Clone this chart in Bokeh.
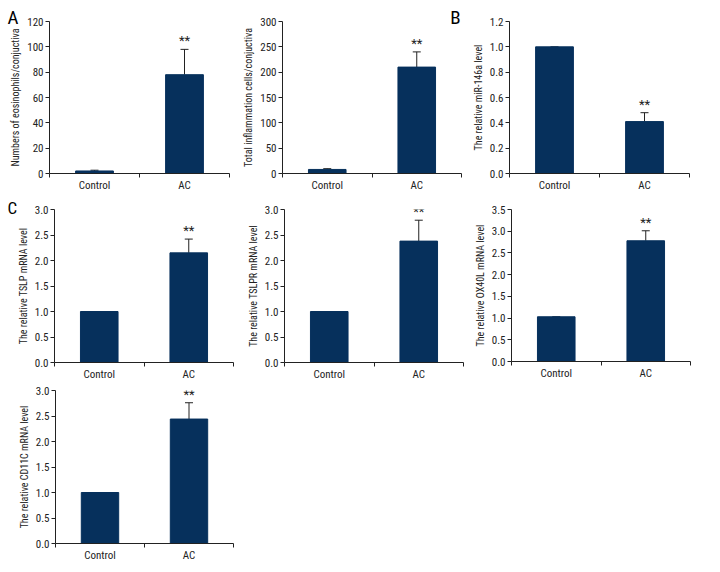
from bokeh.plotting import figure
from bokeh.models import (ColumnDataSource, FixedTicker, Whisker, TeeHead,
                          Range1d, NumeralTickFormatter)
from bokeh.layouts import column, row
from bokeh.core.properties import value
from bokeh.embed import file_html
from bokeh.resources import INLINE

categories = ["Control", "AC"]
significance = ["", "**"]

eos_mean = [2.0, 78.0]
eos_err = [0.6, 20.0]
total_mean = [8.0, 210.0]
total_err = [1.5, 30.0]
mir_mean = [1.0, 0.41]
mir_err = [0.0, 0.07]
tslp_mean = [1.0, 2.15]
tslp_err = [0.0, 0.27]
tslpr_mean = [1.0, 2.38]
tslpr_err = [0.0, 0.41]
ox40l_mean = [1.03, 2.78]
ox40l_err = [0.0, 0.23]
cd11c_mean = [1.0, 2.44]
cd11c_err = [0.0, 0.32]

FONT = "Roboto Condensed"
BAR = "#06305c"
INK = "#222222"


def panel(mean, err, ylabel, ymax, ystep, fmt, fw, fh, bl, bt, bb, br,
          label="", align="left", offset=0, standoff=0, lsize="19px"):
    n = len(categories)
    xs = [i + 0.5 for i in range(n)]
    upper = [m + e for m, e in zip(mean, err)]
    src = ColumnDataSource(dict(x=xs, mean=mean, upper=upper, sig=significance, cat=categories))
    p = figure(frame_width=fw, frame_height=fh, output_backend="svg", toolbar_location=None,
               x_range=Range1d(0, n), y_range=Range1d(0, ymax),
               min_border_left=bl, min_border_top=bt, min_border_bottom=bb, min_border_right=br)
    p.outline_line_color = None
    p.xgrid.visible = False
    p.ygrid.visible = False

    p.title.text = label
    p.title.align = align
    p.title.offset = offset
    p.title.standoff = standoff
    p.title.text_font = FONT
    p.title.text_font_size = lsize
    p.title.text_font_style = "normal"
    p.title.text_color = "black"

    p.vbar(x="x", top="mean", width=0.42, source=src, fill_color=BAR, line_color=BAR)
    wh = Whisker(source=src, base="x", upper="upper", lower="mean", dimension="height",
                 upper_head=TeeHead(size=8, line_color=INK, line_width=1), lower_head=None,
                 line_color=INK, line_width=1)
    p.add_layout(wh)
    p.text(x="x", y="upper", text="sig", source=src, text_align="center", text_baseline="bottom",
           y_offset=-1, text_font=value(FONT), text_font_size="13px", text_color=INK)

    xa = p.xaxis[0]
    xa.ticker = FixedTicker(ticks=xs, minor_ticks=list(range(n + 1)))
    xa.major_label_overrides = {x: c for x, c in zip(xs, categories)}
    xa.major_tick_line_color = None
    xa.major_tick_out = 0
    xa.major_tick_in = 0
    xa.minor_tick_out = 4
    xa.minor_tick_in = 0
    xa.minor_tick_line_color = INK
    xa.axis_line_color = INK
    xa.major_label_text_font = FONT
    xa.major_label_text_font_size = "11px"
    xa.major_label_text_color = INK
    xa.major_label_standoff = 1
    xa.axis_label_standoff = 0

    ya = p.yaxis[0]
    ticks = []
    t = 0.0
    while t <= ymax + 1e-9:
        ticks.append(round(t, 6))
        t += ystep
    ya.ticker = FixedTicker(ticks=ticks)
    ya.formatter = NumeralTickFormatter(format=fmt)
    ya.minor_tick_line_color = None
    ya.major_tick_out = 4
    ya.major_tick_in = 0
    ya.major_tick_line_color = INK
    ya.axis_line_color = INK
    ya.major_label_text_font = FONT
    ya.major_label_text_font_size = "11px"
    ya.major_label_text_color = INK
    ya.major_label_standoff = 2
    ya.axis_label = ylabel
    ya.axis_label_text_font = FONT
    ya.axis_label_text_font_size = "10px"
    ya.axis_label_text_font_style = "normal"
    ya.axis_label_text_color = INK
    ya.axis_label_standoff = 3
    return p


p1 = panel(eos_mean, eos_err, "Numbers of eosinophils/conjuctiva", 120, 20, "0",
           180, 152, 49, 21, 17, 3, "A", "left", -42, -15)
p2 = panel(total_mean, total_err, "Total inflammation cells/conjuctiva", 300, 50, "0",
           179, 152, 50, 21, 17, 3, "B", "right", 1, -15)
p3 = panel(mir_mean, mir_err, "The relative miR-146a level", 1.2, 0.2, "0.0",
           180, 152, 45, 21, 17, 3)
p4 = panel(tslp_mean, tslp_err, "The relative TSLP mRNA level", 3.0, 0.5, "0.0",
           179, 153, 54, 14, 17, 1, "C", "left", -47, -16, "17px")
p5 = panel(tslpr_mean, tslpr_err, "The relative TSLPR mRNA level", 3.0, 0.5, "0.0",
           179, 153, 50, 14, 17, 3)
p6 = panel(ox40l_mean, ox40l_err, "The relative OX40L mRNA level", 3.5, 0.5, "0.0",
           179, 152, 45, 15, 17, 3)
p7 = panel(cd11c_mean, cd11c_err, "The relative CD11C mRNA level", 3.0, 0.5, "0.0",
           178, 153, 55, 8, 17, 1)

layout = column(row(p1, p2, p3), row(p4, p5, p6), row(p7))
open("out.html", "w").write(file_html(layout, INLINE))
